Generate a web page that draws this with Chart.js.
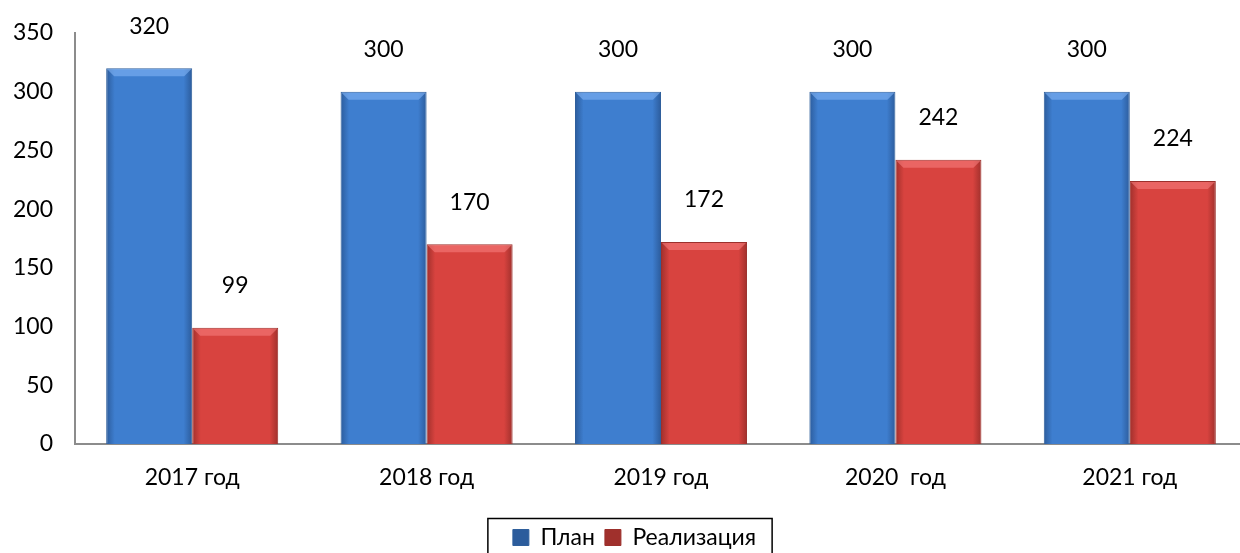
<!DOCTYPE html>
<html>
<head>
<meta charset="utf-8">
<script src="https://cdn.jsdelivr.net/npm/chart.js@4"></script>
<style>
  html, body { margin: 0; padding: 0; background: #fff; overflow: hidden; }
  #wrap { width: 1240px; height: 553px; overflow: hidden; }
</style>
</head>
<body>
<div id="wrap"><canvas id="chart" width="1247" height="553"></canvas></div>
<script>
const years = ['2017 год', '2018 год', '2019 год', '2020  год', '2021 год'];
const plan = [320, 300, 300, 300, 300];
const sold = [99, 170, 172, 242, 224];
const yTicks = [0, 50, 100, 150, 200, 250, 300, 350];

const FONT = 'Lato, "Open Sans", sans-serif';

// horizontal shading so bars look a bit rounded like the original
function barFill(edge, mid) {
    return function (c) {
        const el = c.chart.getDatasetMeta(c.datasetIndex).data[c.dataIndex];
        if (!el || el.width === undefined || isNaN(el.x)) return mid;
        const g = c.chart.ctx.createLinearGradient(el.x - el.width / 2, 0, el.x + el.width / 2, 0);
        g.addColorStop(0, edge);
        g.addColorStop(0.1, mid);
        g.addColorStop(0.9, mid);
        g.addColorStop(1, edge);
        return g;
    };
}

const bevelColors = ['rgba(130,180,245,0.6)', 'rgba(250,130,130,0.55)'];

const bevel = {
    id: 'bevel',
    afterDatasetsDraw(chart) {
        const ctx = chart.ctx;
        ctx.save();
        chart.data.datasets.forEach((ds, i) => {
            chart.getDatasetMeta(i).data.forEach(bar => {
                const l = bar.x - bar.width / 2, r = bar.x + bar.width / 2, t = bar.y, d = 8;
                ctx.fillStyle = bevelColors[i];
                ctx.beginPath();
                ctx.moveTo(l + 1, t + 1);
                ctx.lineTo(r - 1, t + 1);
                ctx.lineTo(r - d, t + d);
                ctx.lineTo(l + d, t + d);
                ctx.closePath();
                ctx.fill();
            });
        });
        ctx.restore();
    }
};

const valueLabels = {
    id: 'valueLabels',
    afterDatasetsDraw(chart) {
        const ctx = chart.ctx;
        ctx.save();
        ctx.font = '23px ' + FONT;
        ctx.fillStyle = '#000';
        ctx.textAlign = 'center';
        ctx.textBaseline = 'middle';
        chart.data.datasets.forEach((ds, i) => {
            chart.getDatasetMeta(i).data.forEach((bar, j) => {
                ctx.fillText(ds.data[j], bar.x, bar.y - 42);
            });
        });
        ctx.restore();
    }
};

// legend in the original sits a bit right of centre and lower, with a frame
const legendBox = {
    id: 'legendBox',
    afterLayout(chart) {
        const lg = chart.legend;
        const dx = 11, dy = 6;
        lg.left += dx;
        lg.right += dx;
        lg.top += dy;
        lg.bottom += dy;
        lg.legendHitBoxes.forEach(b => { b.left += dx; b.top += dy; });
    },
    afterDraw(chart) {
        const lg = chart.legend;
        const ctx = chart.ctx;
        const boxes = lg.legendHitBoxes;
        const last = boxes[boxes.length - 1];
        const left = boxes[0].left - 25;
        const right = last.left + last.width + 16;
        const top = boxes[0].top + boxes[0].height / 2 - 25;
        ctx.save();
        ctx.strokeStyle = '#000';
        ctx.lineWidth = 1.5;
        ctx.strokeRect(left, top, right - left, 60);
        ctx.restore();
    }
};

const chart = new Chart(document.getElementById('chart').getContext('2d'), {
    type: 'bar',
    data: {
        labels: years,
        datasets: [{
            label: 'План',
            data: plan,
            backgroundColor: barFill('#2c5c9c', '#3e7ecf'),
            borderColor: '#2f5f9c',
            borderWidth: 1
        }, {
            label: 'Реализация',
            data: sold,
            backgroundColor: barFill('#a0302c', '#d8433f'),
            borderColor: '#9c302c',
            borderWidth: 1
        }]
    },
    options: {
        responsive: false,
        animation: false,
        layout: { padding: { top: 33, right: 0, left: 0, bottom: 0 } },
        datasets: {
            bar: { barPercentage: 1, categoryPercentage: 0.734 }
        },
        scales: {
            x: {
                grid: { display: false, drawTicks: false },
                border: { color: '#8c8c8c', width: 2 },
                ticks: { color: '#000', font: { family: FONT, size: 23 }, padding: 20 },
                afterFit(scale) {
                    scale.paddingLeft = 0;
                    scale.paddingRight = 0;
                    scale.height = 553 - 444 - scale.chart.legend.height;
                }
            },
            y: {
                min: 0,
                max: 350,
                afterBuildTicks(scale) { scale.ticks = yTicks.map(v => ({ value: v })); },
                grid: { display: false, drawTicks: false },
                border: { color: '#8c8c8c', width: 2 },
                ticks: { color: '#000', font: { family: FONT, size: 23 }, padding: 22 },
                afterFit(scale) {
                    scale.width = 75;
                    scale.paddingTop = 0;
                    scale.paddingBottom = 0;
                }
            }
        },
        plugins: {
            legend: {
                position: 'bottom',
                labels: {
                    color: '#000',
                    font: { family: FONT, size: 23 },
                    boxWidth: 16,
                    boxHeight: 16,
                    padding: 10
                }
            },
            tooltip: { enabled: false }
        }
    },
    plugins: [bevel, valueLabels, legendBox]
});
chart.update();
</script>
</body>
</html>
